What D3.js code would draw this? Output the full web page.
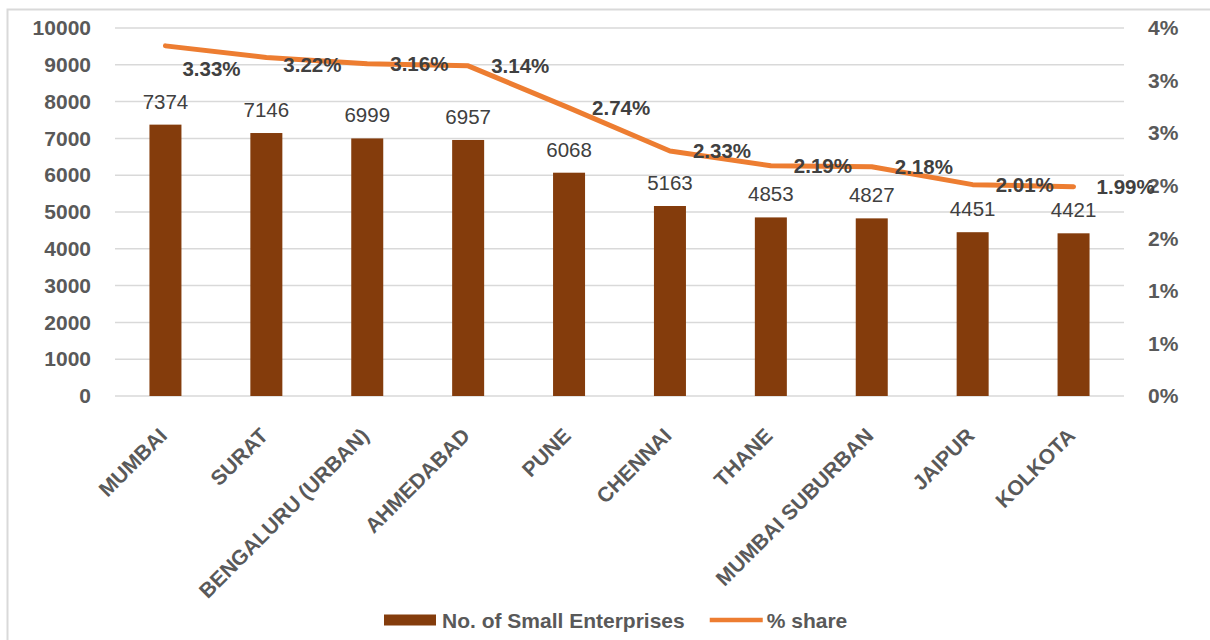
<!DOCTYPE html>
<html>
<head>
<meta charset="utf-8">
<script src="https://cdn.jsdelivr.net/npm/d3@7"></script>
<style>
  html, body { margin: 0; padding: 0; background: #fff; }
  svg { display: block; font-family: "Liberation Sans", Arial, sans-serif; }
</style>
</head>
<body>
<svg id="chart" width="1210" height="640"></svg>
<script>
// ---- data ----
const categories = ["MUMBAI", "SURAT", "BENGALURU (URBAN)", "AHMEDABAD", "PUNE", "CHENNAI", "THANE", "MUMBAI SUBURBAN", "JAIPUR", "KOLKOTA"];
const enterprises = [7374, 7146, 6999, 6957, 6068, 5163, 4853, 4827, 4451, 4421];
const pctShare = [3.33, 3.22, 3.16, 3.14, 2.74, 2.33, 2.19, 2.18, 2.01, 1.99];
const pctLabels = ["3.33%", "3.22%", "3.16%", "3.14%", "2.74%", "2.33%", "2.19%", "2.18%", "2.01%", "1.99%"];
const leftTicks = [0, 1000, 2000, 3000, 4000, 5000, 6000, 7000, 8000, 9000, 10000];
const rightTicks = [0, 0.5, 1, 1.5, 2, 2.5, 3, 3.5];
const rightTickLabels = ["0%", "1%", "1%", "2%", "2%", "3%", "3%", "4%"];
const seriesNames = ["No. of Small Enterprises", "% share"];

// ---- layout ----
const svg = d3.select("#chart");
const plot = { left: 115, right: 1124, top: 28, bottom: 396 };
const barColor = "#843c0c";
const lineColor = "#ed7d31";
const gridColor = "#d9d9d9";
const axisText = "#595959";
const labelText = "#404040";

// outer border (extends past the picture on right/bottom as in reference)
svg.append("rect").attr("x", 7.5).attr("y", 9.5).attr("width", 1400).attr("height", 800)
  .attr("fill", "none").attr("stroke", gridColor).attr("stroke-width", 2);

const x = d3.scaleBand().domain(categories).range([plot.left, plot.right]).paddingInner(0).paddingOuter(0);
const yL = d3.scaleLinear().domain([0, 10000]).range([plot.bottom, plot.top]);
const yR = d3.scaleLinear().domain([0, 3.5]).range([plot.bottom, plot.top]);

// gridlines
svg.append("g").selectAll("line").data(leftTicks).join("line")
  .attr("x1", plot.left).attr("x2", plot.right)
  .attr("y1", d => yL(d)).attr("y2", d => yL(d))
  .attr("stroke", gridColor).attr("stroke-width", 1.5);

// left axis
const gL = svg.append("g").attr("transform", `translate(${plot.left},0)`)
  .call(d3.axisLeft(yL).tickValues(leftTicks).tickSize(0).tickPadding(24).tickFormat(d3.format("d")));
gL.select(".domain").remove();
gL.selectAll("text").attr("fill", axisText).style("font-size", "21px").style("font-weight", "bold");

// right axis
const gR = svg.append("g").attr("transform", `translate(${plot.right},0)`)
  .call(d3.axisRight(yR).tickValues(rightTicks).tickSize(0).tickPadding(24).tickFormat((d, i) => rightTickLabels[i]));
gR.select(".domain").remove();
gR.selectAll("text").attr("fill", axisText).style("font-size", "21px").style("font-weight", "bold");

// category axis
const gX = svg.append("g").attr("transform", `translate(0,${plot.bottom})`)
  .call(d3.axisBottom(x).tickSize(0).tickPadding(0));
gX.select(".domain").remove();
gX.selectAll("text")
  .attr("fill", axisText).style("font-size", "21px").style("font-weight", "bold")
  .attr("text-anchor", "end")
  .attr("y", 0).attr("dy", 0)
  .attr("transform", "translate(3,41) rotate(-45)");

// bars
const barW = 32;
svg.append("g").selectAll("rect").data(enterprises).join("rect")
  .attr("x", (d, i) => x(categories[i]) + x.bandwidth() / 2 - barW / 2)
  .attr("width", barW)
  .attr("y", d => yL(d))
  .attr("height", d => yL(0) - yL(d))
  .attr("fill", barColor);

// bar value labels
svg.append("g").selectAll("text").data(enterprises).join("text")
  .attr("x", (d, i) => x(categories[i]) + x.bandwidth() / 2)
  .attr("y", d => yL(d) - 16)
  .attr("text-anchor", "middle")
  .attr("fill", labelText)
  .style("font-size", "20.5px")
  .text(d => d);

// line
const cx = i => x(categories[i]) + x.bandwidth() / 2;
const line = d3.line().x((d, i) => cx(i)).y(d => yR(d)).curve(d3.curveLinear);
svg.append("path").datum(pctShare)
  .attr("d", line)
  .attr("fill", "none").attr("stroke", lineColor).attr("stroke-width", 5)
  .attr("stroke-linejoin", "round").attr("stroke-linecap", "round");

// line labels (first two were dragged below the line in the reference)
const nudge = [[-6, 23], [-6, 7]];
svg.append("g").selectAll("text").data(pctShare).join("text")
  .attr("x", (d, i) => cx(i) + 23 + (nudge[i] ? nudge[i][0] : 0))
  .attr("y", (d, i) => yR(d) + 7.3 + (nudge[i] ? nudge[i][1] : 0))
  .attr("fill", labelText)
  .style("font-size", "20.5px").style("font-weight", "bold")
  .text((d, i) => pctLabels[i]);

// legend
const leg = svg.append("g");
const legY = 620;
leg.append("rect").attr("x", 384).attr("y", legY - 5.5).attr("width", 52).attr("height", 11).attr("fill", barColor);
const t1 = leg.append("text").attr("x", 442).attr("y", legY + 8)
  .attr("fill", axisText).style("font-size", "21px").style("font-weight", "bold").text(seriesNames[0]);
const t1end = 442 + t1.node().getComputedTextLength();
leg.append("line").attr("x1", t1end + 25).attr("x2", t1end + 78).attr("y1", legY).attr("y2", legY)
  .attr("stroke", lineColor).attr("stroke-width", 4.5);
leg.append("text").attr("x", t1end + 82).attr("y", legY + 8)
  .attr("fill", axisText).style("font-size", "21px").style("font-weight", "bold").text(seriesNames[1]);
</script>
</body>
</html>
